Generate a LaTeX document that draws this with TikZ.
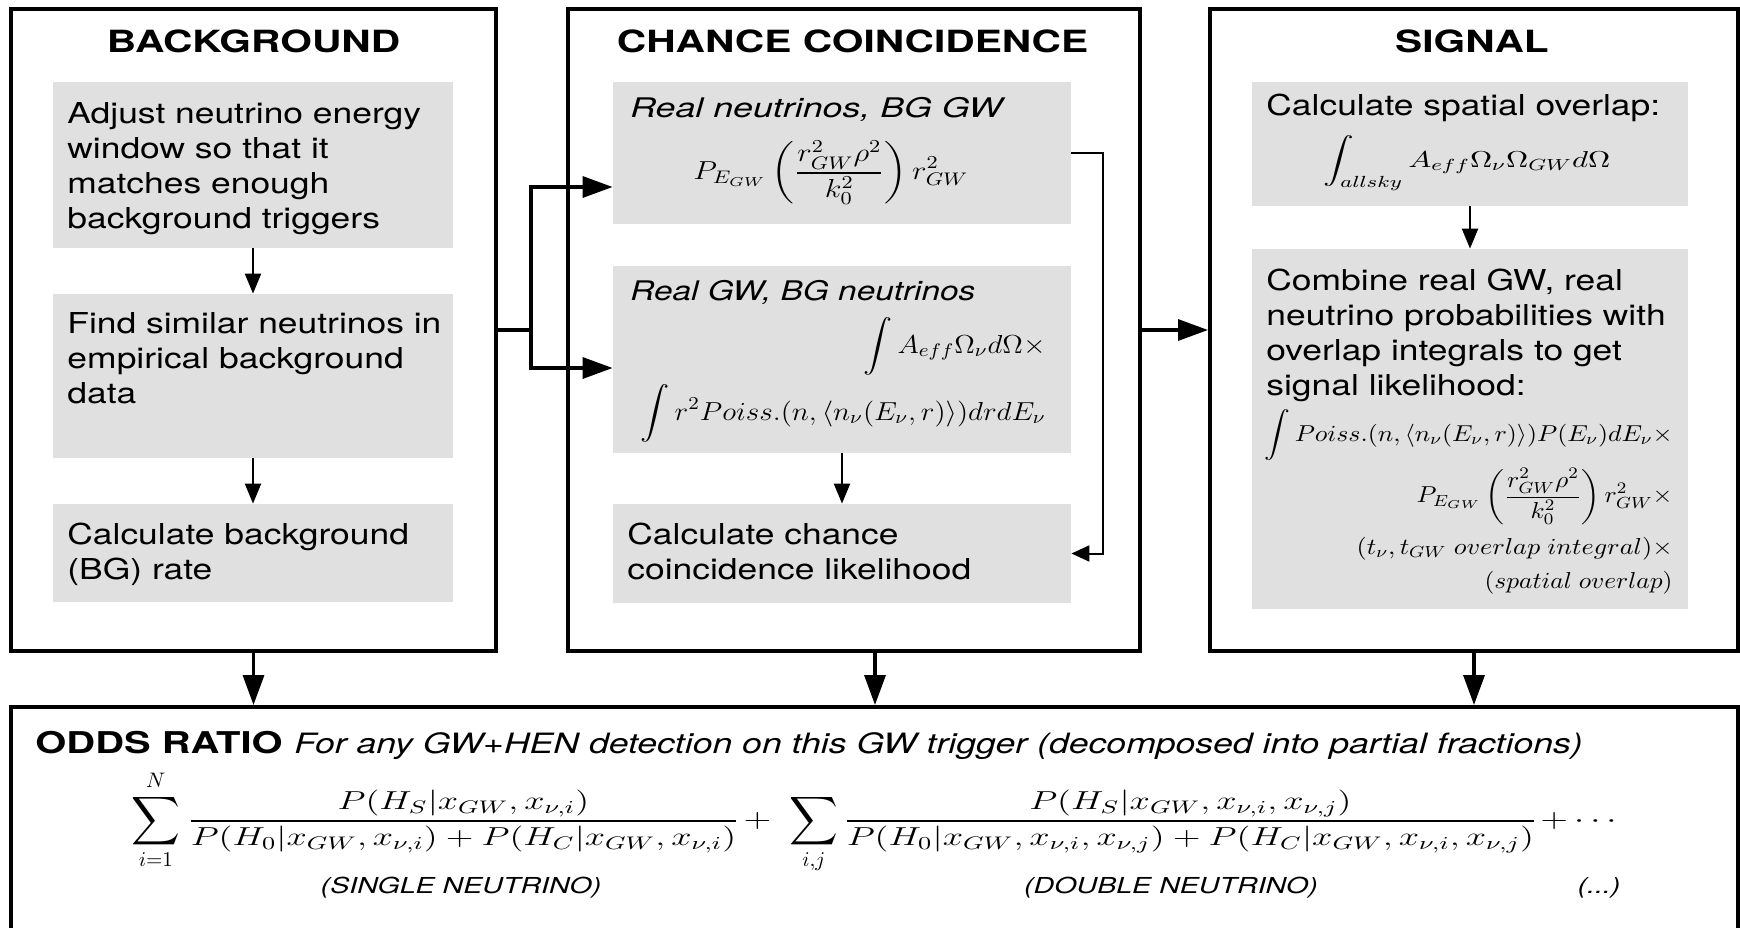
\RequirePackage{fix-cm}
\documentclass[tikz,border=0pt]{standalone}
\DeclareFontShape{OMX}{cmex}{m}{n}{<->cmex10}{}
\usepackage[no-math]{fontspec}
\setmainfont{TeX Gyre Heros}
\usepackage{graphicx}
\usetikzlibrary{arrows.meta}
\definecolor{boxgray}{RGB}{224,224,224}
\newcommand{\hstretch}[2]{\scalebox{#1}[1]{#2}}
\newcommand{\textlines}[1]{\begin{tabular}[t]{@{}l@{}}#1\end{tabular}}
\newcommand{\fitmath}[2]{\resizebox{#1}{\height}{$\displaystyle #2$}}
\newcommand{\fittext}[2]{\resizebox{#1}{\height}{#2}}
\newcommand{\bigsum}{\mathop{\vcenter{\hbox{\scalebox{1.127}{$\displaystyle\sum$}}}}\limits}
\begin{document}
\begin{tikzpicture}[x=0.5pt,y=-0.5pt,
  panel/.style={draw=black, line width=2pt, inner sep=0pt},
  graybox/.style={fill=boxgray, inner sep=0pt},
  body/.style={anchor=base west, inner sep=0pt, font=\fontsize{14.4}{17.5}\selectfont},
  ttl/.style={anchor=base, inner sep=0pt, font=\fontsize{15.3}{18}\selectfont\bfseries},
  lab/.style={anchor=base west, inner sep=0pt, font=\fontsize{13.5}{16}\selectfont\itshape},
  mathc/.style={inner sep=0pt, font=\fontsize{13}{15}\selectfont},
  sumf/.style={inner sep=0pt, font=\fontsize{15}{18}\selectfont},
  maths/.style={inner sep=0pt, font=\fontsize{11.5}{14}\selectfont},
  sublab/.style={anchor=base, inner sep=0pt, font=\fontsize{11}{13}\selectfont\itshape},
  bigline/.style={line width=1.7pt},
  bigarrow/.style={line width=1.7pt, -{Triangle[length=15pt,width=10.5pt]}},
  smallarrow/.style={line width=1.1pt, -{Triangle[length=10pt,width=8pt]}},
  loopline/.style={line width=1pt, -{Triangle[length=9pt,width=8pt]}}]
\useasboundingbox (0,0) rectangle (1740,927);
% panels
\node[panel, minimum width=242.5pt, minimum height=321pt] (bg) at (253.5,330) {};
\node[panel, minimum width=286pt, minimum height=321pt] (cc) at (854,330) {};
\node[panel, minimum width=264pt, minimum height=321pt] (sig) at (1474,330) {};
\begin{scope}
\clip (0,0) rectangle (1740,927);
\node[panel, minimum width=863.5pt, minimum height=116.5pt] (odds) at (874.5,823.5) {};
\end{scope}
% gray boxes
\node[graybox, minimum width=200pt, minimum height=83pt] (b1) at (253,165) {};
\node[graybox, minimum width=200pt, minimum height=82pt] (b2) at (253,376) {};
\node[graybox, minimum width=200pt, minimum height=49pt] (b3) at (253,553) {};
\node[graybox, minimum width=229pt, minimum height=71pt] (c1) at (842,153) {};
\node[graybox, minimum width=229pt, minimum height=93.5pt] (c2) at (842,359.5) {};
\node[graybox, minimum width=229pt, minimum height=49.5pt] (c3) at (842,553.5) {};
\node[graybox, minimum width=218pt, minimum height=62pt] (s1) at (1470,144) {};
\node[graybox, minimum width=218pt, minimum height=180pt] (s2) at (1470,429) {};
% titles
\node[ttl] (tbg) at (253.5,52) {\hstretch{1.33}{BACKGROUND}};
\node[ttl] (tcc) at (852.5,52) {\hstretch{1.33}{CHANCE COINCIDENCE}};
\node[ttl] (tsig) at (1472,52) {\hstretch{1.33}{SIGNAL}};
% body texts
\node[body] (b1t) at (67,123) {\hstretch{1.23}{\textlines{Adjust neutrino energy\\window so that it\\matches enough\\background triggers}}};
\node[body] (b2t) at (67,333) {\hstretch{1.23}{\textlines{Find similar neutrinos in\\empirical background\\data}}};
\node[body] (b3t) at (67,544) {\hstretch{1.23}{\textlines{Calculate background\\(BG) rate}}};
\node[body] (c3t) at (627,544) {\hstretch{1.23}{\textlines{Calculate chance\\coincidence likelihood}}};
\node[body] (s1t) at (1266,115) {\hstretch{1.23}{Calculate spatial overlap:}};
\node[body] (s2t) at (1266,290) {\hstretch{1.23}{\textlines{Combine real GW, real\\neutrino probabilities with\\overlap integrals to get\\signal likelihood:}}};
% chance coincidence contents
\node[lab] (c1l) at (630,117) {\fittext{186pt}{Real neutrinos, BG GW}};
\node[mathc, anchor=base west] (c1f) at (693,179.5) {\fitmath{137.5pt}{P_{E_{GW}}\left(\frac{r_{GW}^2\rho^2}{k_0^2}\right)r_{GW}^2}};
\node[lab] (c2l) at (630,300) {\fittext{172.5pt}{Real GW, BG neutrinos}};
\node[mathc, anchor=base east] (c2f1) at (1046,353) {\fitmath{91pt}{\int A_{eff}\Omega_\nu d\Omega\times}};
\node[mathc, anchor=base east] (c2f2) at (1046,420) {\fitmath{202.5pt}{\int r^2 Poiss.(n,\langle n_\nu(E_\nu,r)\rangle)drdE_\nu}};
% signal contents
\node[maths, anchor=base west] (s1f) at (1323,167) {\fitmath{143.5pt}{\int_{allsky}A_{eff}\Omega_\nu\Omega_{GW}d\Omega}};
\node[maths, anchor=base east] (s2f1) at (1673,441) {\fitmath{204pt}{\int Poiss.(n,\langle n_\nu(E_\nu,r)\rangle)P(E_\nu)dE_\nu\times}};
\node[maths, anchor=base east] (s2f2) at (1673,502.75) {\fitmath{128pt}{P_{E_{GW}}\left(\frac{r_{GW}^2\rho^2}{k_0^2}\right)r_{GW}^2\times}};
\node[maths, anchor=base east] (s2f3) at (1673,554) {\fitmath{158pt}{(t_\nu,t_{GW}\ overlap\ integral)\times}};
\node[maths, anchor=base east] (s2f4) at (1673,588) {\fitmath{94pt}{(spatial\ overlap)}};
% odds ratio
\node[anchor=base west, inner sep=0pt, font=\fontsize{15}{18}\selectfont\bfseries] (oddsa) at (35,753) {\hstretch{1.33}{ODDS RATIO}};
\node[anchor=base west, inner sep=0pt, font=\fontsize{14}{17}\selectfont\itshape] (oddsb) at (294,753) {\hstretch{1.272}{For any GW+HEN detection on this GW trigger (decomposed into partial fractions)}};
\node[sumf, anchor=base west] (sum1) at (131,828.5) {$\displaystyle\bigsum_{i=1}^{N}$};
\node[mathc, anchor=base west] (fr1) at (187,827.5) {\fitmath{276pt}{\frac{P(H_S|x_{GW},x_{\nu,i})}{P(H_0|x_{GW},x_{\nu,i})+P(H_C|x_{GW},x_{\nu,i})}}};
\node[mathc, anchor=base] (pl1) at (757.5,827.5) {\hstretch{1.4}{$+$}};
\node[sumf, anchor=base west] (sum2) at (789,828.5) {$\displaystyle\bigsum_{i,j}$};
\node[mathc, anchor=base west] (fr2) at (843,827.5) {\fitmath{347pt}{\frac{P(H_S|x_{GW},x_{\nu,i},x_{\nu,j})}{P(H_0|x_{GW},x_{\nu,i},x_{\nu,j})+P(H_C|x_{GW},x_{\nu,i},x_{\nu,j})}}};
\node[mathc, anchor=base west] (pl2) at (1540,827.5) {\hstretch{1.4}{$+\cdots$}};
\node[sublab] (l1) at (461,893) {\hstretch{1.3}{(SINGLE NEUTRINO)}};
\node[sublab] (l2) at (1171,893) {\hstretch{1.3}{(DOUBLE NEUTRINO)}};
\node[sublab] (l3) at (1599,893) {\hstretch{1.3}{(...)}};
% connectors
\draw[smallarrow] (b1) -- (b2);
\draw[smallarrow] (b2) -- (b3);
\draw[smallarrow] (c2) -- (c3);
\draw[smallarrow] (s1) -- (s2);
\draw[loopline] (c1.east) -- ++(32,0) |- (c3.east);
\coordinate (split) at (531,330);
\draw[bigline] (bg.east) -- (split);
\draw[bigarrow] (split) |- ([yshift=-17pt]c1.west);
\draw[bigarrow] (split) |- ([yshift=-4.25pt]c2.west);
\draw[bigarrow] (cc.east) -- (sig.west);
\draw[bigarrow] (bg.south) -- (bg.south |- odds.north);
\draw[bigarrow] ([xshift=10.5pt]cc.south) -- ([xshift=10.5pt]cc.south |- odds.north);
\draw[bigarrow] (sig.south) -- (sig.south |- odds.north);
\end{tikzpicture}
\end{document}
